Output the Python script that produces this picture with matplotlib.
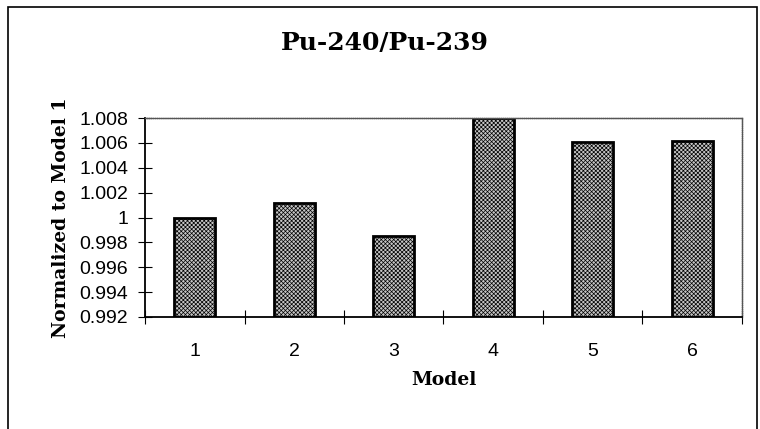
import numpy as np
from matplotlib import pyplot as plt
from matplotlib.patches import Rectangle

models = ["1", "2", "3", "4", "5", "6"]
ratios = [1.0, 1.00114, 0.99854, 1.008, 1.0061, 1.00615]
yticks = [0.992, 0.994, 0.996, 0.998, 1.0, 1.002, 1.004, 1.006, 1.008]
ytick_labels = ["0.992", "0.994", "0.996", "0.998", "1", "1.002", "1.004", "1.006", "1.008"]

plt.rcParams['hatch.color'] = '#7a7a7a'
plt.rcParams['hatch.linewidth'] = 0.5

fig = plt.figure(figsize=(7.6, 4.29), dpi=100)
ax = fig.add_axes([0.1908, 0.2611, 0.7855, 0.4638])

x = np.arange(len(models))
ax.bar(x, np.array(ratios) - 0.992, bottom=0.992, width=0.41,
	color='#c6c6c6', edgecolor='black', linewidth=2, hatch='xxxxxxxx', zorder=2)

ax.set_xlim(-0.5, len(models) - 0.5)
ax.set_ylim(0.992, 1.008)
ax.set_yticks(yticks)
ax.set_yticklabels(ytick_labels, family='Liberation Sans', fontsize=14)
ax.set_xticks(x)
ax.set_xticklabels(models, family='Liberation Sans', fontsize=14)
ax.set_xticks(np.arange(len(models) + 1) - 0.5, minor=True)
ax.tick_params(axis='x', which='major', length=0, pad=19)
ax.tick_params(axis='x', which='minor', direction='inout', length=10, width=0.8)
ax.tick_params(axis='y', direction='inout', length=10, width=0.8, pad=7)

for s in ['left', 'bottom']:
	ax.spines[s].set_linewidth(1.3)
for s in ['top', 'right']:
	ax.spines[s].set_linewidth(1.0)
	ax.spines[s].set_color('#555555')
	ax.spines[s].set_linestyle((0, (1, 0.5)))

ax.set_xlabel("Model", family='DejaVu Serif', fontweight='bold', fontsize=13.5, labelpad=8)
ax.set_ylabel("Normalized to Model 1", family='DejaVu Serif', fontweight='bold', fontsize=13.5, labelpad=7)
fig.text(0.506, 0.9, "Pu-240/Pu-239", family='DejaVu Serif', fontweight='bold',
	fontsize=18, ha='center', va='center')

# outer frame, bottom edge falls outside the picture
fig.patches.append(Rectangle((8 / 760, -0.05), 749 / 760, 1 - 7 / 429 + 0.05,
	transform=fig.transFigure, fill=False, edgecolor='black', linewidth=1.2))

fig.savefig("out.png", dpi=100)
